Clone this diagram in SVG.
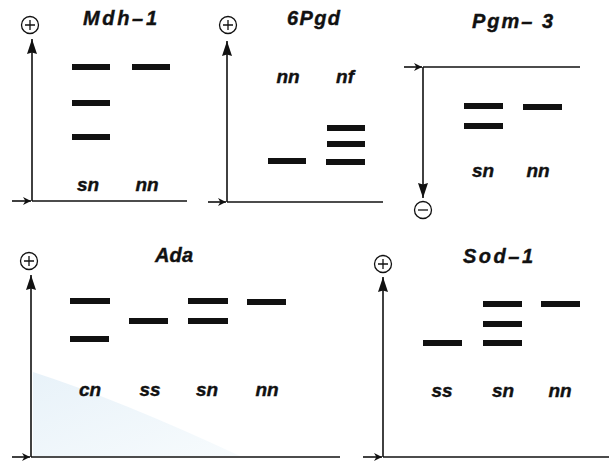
<svg xmlns="http://www.w3.org/2000/svg" width="609" height="462" viewBox="0 0 609 462">
<defs>
<style>
.ax{stroke:#111;stroke-width:1.6;fill:none}
.band{fill:#111}
.t{font-family:"Liberation Sans",Arial,sans-serif;font-weight:bold;font-style:italic;fill:#111;stroke:#111;stroke-width:0.4}
.ttl{font-size:20px}
.lb{font-size:19px}
.pol{stroke:#111;stroke-width:1.3;fill:none}
</style>
<linearGradient id="sh" x1="0" y1="0" x2="1" y2="1">
<stop offset="0" stop-color="#e8f2f9"/><stop offset="1" stop-color="#f7fbfd"/>
</linearGradient>
<marker id="ah" viewBox="0 0 15 10" refX="15" refY="5" markerWidth="15" markerHeight="10" markerUnits="userSpaceOnUse" orient="auto"><path d="M0,0 L15,5 L0,10 L1.5,5 z" fill="#111"/></marker>
<marker id="tk" viewBox="0 0 10 10" refX="10" refY="5" markerWidth="14" markerHeight="8" markerUnits="userSpaceOnUse" orient="auto"><path d="M0,0 L10,5 L0,10 L3,5 z" fill="#111"/></marker>
</defs>
<rect width="609" height="462" fill="#fff"/>
<path d="M33,372 Q120,400 240,456 L33,456 z" fill="url(#sh)"/>
<g id="connectors">
<line class="ax" x1="32" y1="201" x2="32" y2="39" marker-end="url(#ah)"/>
<line class="ax" x1="12" y1="201" x2="31" y2="201" marker-end="url(#tk)"/>
<line class="ax" x1="32" y1="201" x2="187" y2="201"/>
<line class="ax" x1="227" y1="202" x2="227" y2="41" marker-end="url(#ah)"/>
<line class="ax" x1="208" y1="202" x2="226" y2="202" marker-end="url(#tk)"/>
<line class="ax" x1="227" y1="202" x2="383" y2="202"/>
<line class="ax" x1="423" y1="67" x2="423" y2="198" marker-end="url(#ah)"/>
<line class="ax" x1="404" y1="67" x2="422" y2="67" marker-end="url(#tk)"/>
<line class="ax" x1="423" y1="67" x2="580" y2="67"/>
<line class="ax" x1="31" y1="457" x2="31" y2="275" marker-end="url(#ah)"/>
<line class="ax" x1="12" y1="457" x2="30" y2="457" marker-end="url(#tk)"/>
<line class="ax" x1="31" y1="457" x2="340" y2="457"/>
<line class="ax" x1="383" y1="457" x2="383" y2="277" marker-end="url(#ah)"/>
<line class="ax" x1="363" y1="457" x2="382" y2="457" marker-end="url(#tk)"/>
<line class="ax" x1="383" y1="457" x2="609" y2="457"/>
</g>
<g id="mdh1">
<circle class="pol" cx="30" cy="25" r="8.5"/><path class="pol" d="M25,25 H35 M30,20 V30"/>
<text class="t ttl" x="83" y="25" textLength="74" lengthAdjust="spacing">Mdh–1</text>
<rect class="band" x="72" y="64" width="38" height="6"/>
<rect class="band" x="72" y="100" width="38" height="6"/>
<rect class="band" x="72" y="134" width="38" height="6"/>
<rect class="band" x="132" y="64" width="38" height="6"/>
<text class="t lb" x="88" y="191" text-anchor="middle">sn</text>
<text class="t lb" x="147" y="191" text-anchor="middle">nn</text>
</g>
<g id="pgd6">
<circle class="pol" cx="228" cy="25" r="8.5"/><path class="pol" d="M223,25 H233 M228,20 V30"/>
<text class="t ttl" x="287" y="25" textLength="53" lengthAdjust="spacing">6Pgd</text>
<text class="t lb" x="288" y="83" text-anchor="middle">nn</text>
<text class="t lb" x="345" y="83" text-anchor="middle">nf</text>
<rect class="band" x="268" y="158" width="38" height="6"/>
<rect class="band" x="327" y="125" width="38" height="6"/>
<rect class="band" x="327" y="141" width="38" height="6"/>
<rect class="band" x="326" y="159" width="39" height="6"/>
</g>
<g id="pgm3">
<text class="t ttl" x="472" y="28" textLength="81" lengthAdjust="spacing">Pgm– 3</text>
<circle class="pol" cx="423" cy="210" r="8.5"/><path class="pol" d="M418,210 H428"/>
<rect class="band" x="464" y="103" width="39" height="6"/>
<rect class="band" x="464" y="123" width="39" height="6"/>
<rect class="band" x="523" y="104" width="39" height="6"/>
<text class="t lb" x="483" y="177" text-anchor="middle">sn</text>
<text class="t lb" x="538" y="177" text-anchor="middle">nn</text>
</g>
<g id="ada">
<circle class="pol" cx="29" cy="261" r="8.5"/><path class="pol" d="M24,261 H34 M29,256 V266"/>
<text class="t ttl" x="155" y="262" textLength="38" lengthAdjust="spacing">Ada</text>
<rect class="band" x="70" y="298" width="40" height="6"/>
<rect class="band" x="70" y="336" width="39" height="6"/>
<rect class="band" x="129" y="318" width="39" height="6"/>
<rect class="band" x="188" y="298" width="40" height="6"/>
<rect class="band" x="188" y="318" width="40" height="6"/>
<rect class="band" x="247" y="299" width="39" height="6"/>
<text class="t lb" x="90" y="396" text-anchor="middle">cn</text>
<text class="t lb" x="150" y="396" text-anchor="middle">ss</text>
<text class="t lb" x="207" y="396" text-anchor="middle">sn</text>
<text class="t lb" x="267" y="396" text-anchor="middle">nn</text>
</g>
<g id="sod1">
<circle class="pol" cx="383" cy="264" r="8.5"/><path class="pol" d="M378,264 H388 M383,259 V269"/>
<text class="t ttl" x="463" y="263" textLength="70" lengthAdjust="spacing">Sod–1</text>
<rect class="band" x="423" y="340" width="39" height="6"/>
<rect class="band" x="483" y="301" width="39" height="6"/>
<rect class="band" x="483" y="321" width="39" height="6"/>
<rect class="band" x="483" y="340" width="39" height="6"/>
<rect class="band" x="541" y="301" width="39" height="6"/>
<text class="t lb" x="442" y="397" text-anchor="middle">ss</text>
<text class="t lb" x="503" y="397" text-anchor="middle">sn</text>
<text class="t lb" x="560" y="397" text-anchor="middle">nn</text>
</g>
</svg>
